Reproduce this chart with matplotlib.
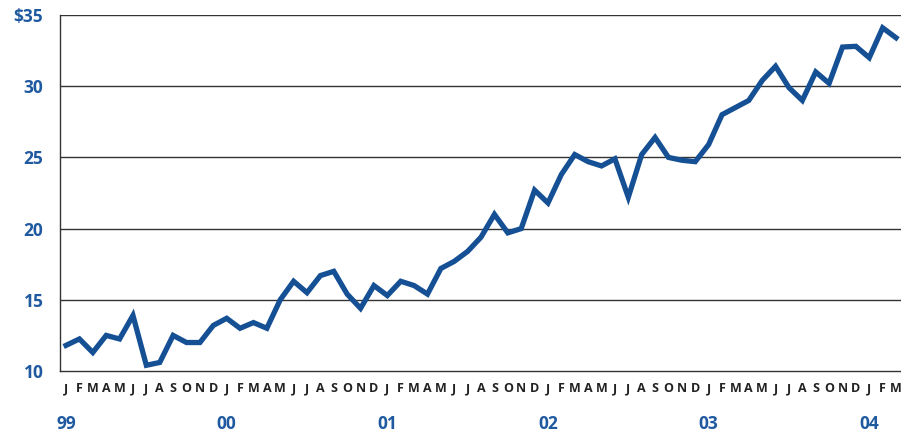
import matplotlib
matplotlib.use("Agg")
import matplotlib.pyplot as plt

months = list("JFMAMJJASOND") * 5 + list("JFM")
year_labels = ["99", "00", "01", "02", "03", "04"]
values = [11.8, 12.25, 11.3, 12.5, 12.25, 13.9, 10.4, 10.6, 12.5, 12.0, 12.0, 13.2,
          13.7, 13.0, 13.4, 13.0, 15.0, 16.3, 15.5, 16.7, 17.0, 15.4, 14.4, 16.0,
          15.3, 16.3, 16.0, 15.4, 17.2, 17.7, 18.4, 19.4, 21.0, 19.7, 20.0, 22.7,
          21.8, 23.8, 25.2, 24.7, 24.4, 24.9, 22.2, 25.2, 26.4, 25.0, 24.8, 24.7,
          25.9, 28.0, 28.5, 29.0, 30.4, 31.4, 29.9, 29.0, 31.0, 30.2, 32.75, 32.8,
          32.0, 34.1, 33.4]
yticks = [10, 15, 20, 25, 30, 35]
ytick_labels = ["10", "15", "20", "25", "30", "$35"]

blue = "#154f94"
label_blue = "#1f5aa0"

plt.rcParams['font.family'] = ['Open Sans', 'DejaVu Sans']

fig = plt.figure(figsize=(9.01, 4.36), dpi=100)
ax = fig.add_axes([60/901, 1-371/436, 1-60/901, (371-15)/436])
x = list(range(len(values)))
ax.plot(x, values, color=blue, lw=3.8, solid_joinstyle='miter', zorder=3)
ax.set_xlim(-0.45, 62.37)
ax.set_ylim(10, 35)
for yv in yticks[1:]:
    ax.axhline(yv, color="#333333", lw=1.0, zorder=1)
for s in ["top", "right"]:
    ax.spines[s].set_visible(False)
ax.spines["left"].set_color("#333333")
ax.spines["bottom"].set_color("#333333")
ax.spines["left"].set_linewidth(1.0)
ax.spines["bottom"].set_linewidth(1.0)
ax.set_yticks(yticks)
ax.set_yticklabels(ytick_labels, fontsize=12.5, fontweight="bold", color=label_blue)
ax.tick_params(axis="y", length=0, pad=12)
ax.set_xticks(x)
ax.set_xticklabels(months, fontsize=9, fontweight="bold", color="#222222")
ax.tick_params(axis="x", length=0, pad=8)
for i, yl in enumerate(year_labels):
    ax.text(i*12, -0.15, yl, transform=ax.get_xaxis_transform(), ha="center", va="center",
            fontsize=12.5, fontweight="bold", color=label_blue)
fig.savefig("out.png", dpi=100)
